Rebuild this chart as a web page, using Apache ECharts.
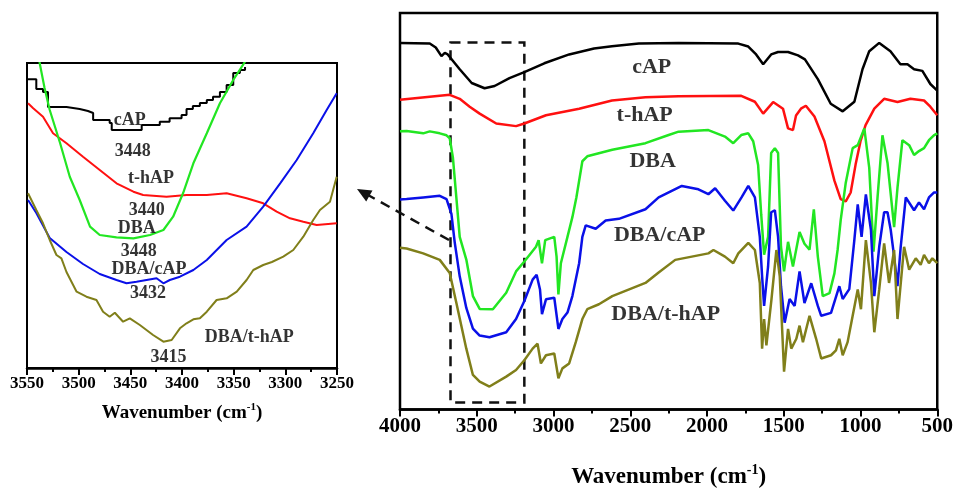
<!DOCTYPE html>
<html>
<head>
<meta charset="utf-8">
<script src="https://cdn.jsdelivr.net/npm/echarts@6/dist/echarts.min.js"></script>
<style>
  html, body { margin: 0; padding: 0; background: #fff; }
  #chart { width: 956px; height: 494px; }
</style>
</head>
<body>
<div id="chart"></div>
<script>
// FTIR spectra, [wavenumber, transmittance (a.u.)]
var mainCap = [[4000,371.5],[3806,371],[3767,367],[3730,358.3],[3708,361.5],[3689,360],[3611,345],[3533,331],[3449,325.7],[3384,328],[3287,336],[3190,342],[3060,351],[2898,360],[2736,366],[2619,368.3],[2444,371],[2185,371.7],[1796,371],[1731,368],[1680,360],[1634,350],[1582,360],[1537,362.5],[1472,362.5],[1407,359],[1362,355],[1278,335],[1194,310],[1116,302.3],[1040,312],[987,345],[943,363.3],[878,371.7],[805,363.3],[740,350],[694,350],[651,345],[597,343.3],[545,330],[500,323.3]];
var mainThap = [[4000,314],[3806,317],[3676,319],[3611,315],[3546,307],[3481,300],[3373,290],[3244,287.3],[3190,290],[3049,298.3],[2833,305],[2619,313.3],[2401,316.7],[2185,317.7],[1777,318],[1688,312],[1634,300],[1569,311.7],[1505,305],[1472,285],[1440,283.3],[1420,298],[1388,305],[1356,308],[1300,297],[1235,272],[1170,232],[1129,213.3],[1096,211],[1064,220],[1032,248.3],[1000,272],[967,288.3],[910,305],[846,315],[759,311.7],[675,315],[586,313.3],[545,307],[500,298.3]];
var mainDba = [[4000,282],[3957,282.3],[3849,280],[3806,282],[3741,280],[3697,278],[3676,275],[3655,255],[3633,215],[3611,175],[3568,152],[3525,115],[3481,102],[3395,101.7],[3308,118.3],[3244,140],[3190,150],[3114,165],[3097,171.7],[3075,148.3],[3054,171.7],[2995,175],[2980,155],[2968,116.7],[2952,148.3],[2909,175],[2877,195],[2851,215],[2812,251.7],[2780,256.7],[2617,263.3],[2401,270],[2250,278.3],[2185,281.7],[1991,283.3],[1883,276.7],[1829,270],[1777,278.3],[1731,280],[1699,272],[1667,248],[1647,198],[1628,157],[1602,175],[1582,260],[1558,265],[1537,260],[1518,165],[1498,140],[1472,170],[1440,145],[1397,180],[1365,168],[1332,162],[1304,203],[1278,155],[1246,115],[1202,118],[1170,138],[1149,162],[1129,192],[1096,230],[1051,265],[1018,268],[975,285],[943,245],[915,160],[889,215],[857,278],[824,250],[781,185],[759,225],[727,273],[683,268],[651,258],[619,262],[586,265],[554,273],[522,278],[500,280]];
var mainDbaCap = [[4000,213],[3957,213.3],[3849,215],[3741,216.7],[3697,213.3],[3665,198.3],[3644,170],[3611,135],[3568,103],[3525,82],[3481,75],[3417,73.3],[3308,78.3],[3244,91.7],[3190,110],[3136,131.7],[3110,136.7],[3088,121.7],[3075,96.7],[3049,111.7],[2995,113.3],[2968,81.7],[2942,91.7],[2909,98.3],[2877,115],[2833,148.3],[2812,175],[2790,186.7],[2725,183.3],[2660,191.7],[2574,193.3],[2401,203],[2315,215],[2164,226.7],[2056,223.3],[1991,218.3],[1947,224.3],[1883,211.7],[1829,201.7],[1775,215],[1731,226.7],[1688,215],[1656,175],[1641,135],[1628,105],[1602,145],[1582,200],[1558,202],[1537,175],[1518,125],[1494,88],[1462,112],[1429,105],[1397,140],[1365,108],[1321,128],[1278,105],[1256,95],[1192,98],[1138,125],[1116,112],[1073,122],[1040,172],[1018,208],[993,175],[965,218],[932,182],[910,115],[878,165],[846,200],[824,200],[803,182],[781,155],[759,125],[738,165],[705,215],[651,202],[619,210],[586,203],[554,215],[522,220],[500,220]];
var mainDbaThap = [[4000,164],[3957,163.3],[3849,158.3],[3741,151.7],[3676,138.3],[3633,108.3],[3568,61.7],[3525,35],[3481,28.3],[3417,23.3],[3308,33.3],[3244,40],[3190,50],[3136,61.7],[3104,66.7],[3082,46.7],[3049,55],[2995,56.7],[2968,31.7],[2942,41.7],[2898,46.7],[2855,68.3],[2812,91.7],[2780,101.7],[2704,106.7],[2617,115],[2401,128.3],[2315,139],[2207,151.7],[2099,155],[1991,158.3],[1958,161.7],[1883,155],[1829,148.3],[1796,158.3],[1731,169],[1688,161.7],[1656,128.3],[1641,61.7],[1628,91.7],[1613,65],[1580,111.7],[1548,161.7],[1526,135],[1498,38.3],[1472,81.7],[1451,61.7],[1418,71.7],[1397,85],[1375,68.3],[1332,95],[1289,71.7],[1256,51.7],[1192,55],[1160,60],[1138,71.7],[1116,55],[1084,68.3],[1051,95],[1018,121.7],[997,101.7],[965,171.7],[932,128.3],[910,78.3],[878,121.7],[846,168.3],[814,128.3],[781,161.7],[759,91.7],[716,165],[683,141.7],[640,153.3],[608,146.7],[586,156.7],[554,148.3],[532,153.3],[500,148.3]];

var insetCap = [[3549,288.7],[3541,279],[3534.5,276],[3529.7,261],[3511.8,259],[3499,257],[3491,255],[3486,248],[3470,245],[3468,238],[3441,238],[3439,243],[3421.5,246.3],[3412,249.7],[3400.4,253],[3395.6,259],[3389.5,262],[3382.7,265],[3376,268],[3370,271.3],[3363.3,276],[3356.8,283],[3350.4,295],[3344,298],[3339,301]];
var insetThap = [[3549,264.7],[3544,259.7],[3534.5,251.3],[3524.8,234.7],[3511.8,224.7],[3495.8,211.3],[3479.6,198],[3463.4,184.7],[3447,176.3],[3437.6,173],[3415,171.3],[3395.6,173],[3376,173],[3356.8,174.7],[3337.5,169.7],[3321.4,164.7],[3308.4,156.3],[3295.5,149.7],[3282.6,146.3],[3269.7,143],[3250.3,144.7]];
var insetDba = [[3540.6,338],[3537.7,304.7],[3533,280],[3528,258],[3518,225],[3508.6,191.3],[3499,168],[3489,141.3],[3479.6,133],[3463.4,130.7],[3447,129.7],[3431,133],[3418,138],[3408.6,151.3],[3399,174.7],[3389,204.7],[3376,234.7],[3363.3,264.7],[3350.4,288],[3339,306.3],[3334,328]];
var insetDbaCap = [[3549,168],[3541,155],[3528,130],[3511.8,116],[3495.8,104],[3479.6,94],[3463.4,88],[3453.7,84.7],[3444,86.3],[3434.3,88],[3424.6,89.7],[3418,84.7],[3411.8,88],[3402,91.3],[3389,98],[3376,108],[3356.8,128],[3337.5,141.3],[3321.4,161.3],[3305,184.7],[3289,208],[3273,234.7],[3260,258],[3250.3,274.7]];
var insetDbaThap = [[3549,174.7],[3541,158],[3534.5,144.7],[3528,128],[3521.5,113],[3516.7,109.7],[3511.8,96],[3502,76.3],[3492.5,71.3],[3482.8,68],[3476.4,56.3],[3470,51.3],[3465,55.3],[3457,46.3],[3450.5,49.7],[3440.8,43],[3428,33],[3418,26.3],[3410,28],[3402,39.7],[3395.6,44.7],[3389,48.7],[3382.7,49.7],[3376,56.3],[3366.5,68],[3356.8,69.7],[3347,76.3],[3337.5,88],[3331,98],[3321.4,103],[3313,106],[3302,111.3],[3292.3,118],[3282.6,131.3],[3273,148],[3266.5,158],[3256.8,166.3],[3250.3,191.3]];

// curve names and peak labels: [text, wavenumber, transmittance]
var mainLabels = [['cAP',2360,347],['t-hAP',2406,298],['DBA',2354,252],['DBA/cAP',2308,177],['DBA/t-hAP',2269,97]];
var insetLabels = [['cAP',3450.5,248],['3448',3447.6,216.3],['t-hAP',3430,190],['3440',3434,158],['DBA',3443.7,140],['3448',3441.8,116.3],['DBA/cAP',3432,99],['3432',3433,75],['DBA/t-hAP',3335,31],['3415',3413,11]];
// zoomed region marked on the main chart
var boxRange = [3671, 3190];

var colors = ['#000000', '#ff1010', '#22e622', '#0a10e8', '#807f1a'];
var serif = 'Liberation Serif';

var chart = echarts.init(document.getElementById('chart'));

function line(data, ci, xi, w, step) {
    return {
        type: 'line',
        xAxisIndex: xi,
        yAxisIndex: xi,
        data: data,
        showSymbol: false,
        symbol: 'none',
        step: step || false,
        lineStyle: {color: colors[ci], width: w},
        silent: true,
        z: 3
    };
}

function labels(list, xi, size) {
    return {
        type: 'scatter',
        xAxisIndex: xi,
        yAxisIndex: xi,
        symbolSize: 0,
        silent: true,
        data: list.map(function (d) { return [d[1], d[2], d[0]]; }),
        label: {
            show: true,
            position: 'inside',
            formatter: function (p) { return p.value[2]; },
            color: '#000',
            fontFamily: serif,
            fontWeight: 'bold',
            fontSize: size
        },
        z: 5
    };
}

function xAxisOf(gi, min, max, step, fontSize, gap, supSize) {
    return {
        gridIndex: gi,
        type: 'value',
        min: min,
        max: max,
        interval: step,
        inverse: true,
        name: 'Wavenumber (cm{sup|-1})',
        nameLocation: 'middle',
        nameGap: gap,
        nameTextStyle: {
            fontFamily: serif, fontWeight: 'bold', fontSize: fontSize + 2, color: '#000',
            rich: {sup: {fontFamily: serif, fontWeight: 'bold', fontSize: supSize, color: '#000', padding: [0, 0, supSize, 0]}}
        },
        axisLine: {show: true, lineStyle: {color: '#000', width: 2.5}},
        axisTick: {show: true, inside: false, length: 7, lineStyle: {color: '#000', width: 2}},
        minorTick: {show: true, splitNumber: 2, length: 4, lineStyle: {color: '#000', width: 2}},
        splitLine: {show: false},
        axisLabel: {
            fontFamily: serif, fontWeight: 'bold', fontSize: fontSize, color: '#000', margin: 7,
            formatter: function (v) { return String(v); }
        }
    };
}

var dbaCapMain = line(mainCap, 0, 1, 2.5);
dbaCapMain.markArea = {
    silent: true,
    itemStyle: {color: 'transparent', borderColor: '#111', borderWidth: 2.5, borderType: [10, 7]},
    data: [[{coord: [boxRange[0], 372]}, {coord: [boxRange[1], 7]}]]
};

var option = {
    animation: false,
    backgroundColor: '#fff',
    grid: [
        {left: 27, top: 63, width: 310, height: 305, show: true, borderColor: '#000', borderWidth: 2, backgroundColor: 'transparent'},
        {left: 400, top: 13, width: 540, height: 402, show: true, borderColor: '#000', borderWidth: 2.5, backgroundColor: 'transparent'}
    ],
    xAxis: [
        xAxisOf(0, 3250, 3550, 50, 17, 34, 11),
        xAxisOf(1, 500, 4000, 500, 21, 54, 14)
    ],
    yAxis: [
        {gridIndex: 0, type: 'value', min: 0, max: 305, show: false},
        {gridIndex: 1, type: 'value', min: 0, max: 402, show: false}
    ],
    graphic: [
        {
            type: 'line', silent: true, z: 10,
            shape: {x1: 449, y1: 240, x2: 368, y2: 195},
            style: {stroke: '#111', lineWidth: 2.5, lineDash: [10, 7]}
        },
        {
            type: 'polygon', silent: true, z: 10,
            shape: {points: [[357, 189], [372.5, 190.5], [366.2, 201.5]]},
            style: {fill: '#111'}
        }
    ],
    series: [
        line(insetCap, 0, 0, 2, 'end'),
        line(insetThap, 1, 0, 2),
        line(insetDba, 2, 0, 2.2),
        line(insetDbaCap, 3, 0, 2),
        line(insetDbaThap, 4, 0, 2),
        dbaCapMain,
        line(mainThap, 1, 1, 2.5),
        line(mainDba, 2, 1, 2.5),
        line(mainDbaCap, 3, 1, 2.5),
        line(mainDbaThap, 4, 1, 2.5),
        labels(insetLabels, 0, 18),
        labels(mainLabels, 1, 22)
    ]
};

chart.setOption(option);
</script>
</body>
</html>
